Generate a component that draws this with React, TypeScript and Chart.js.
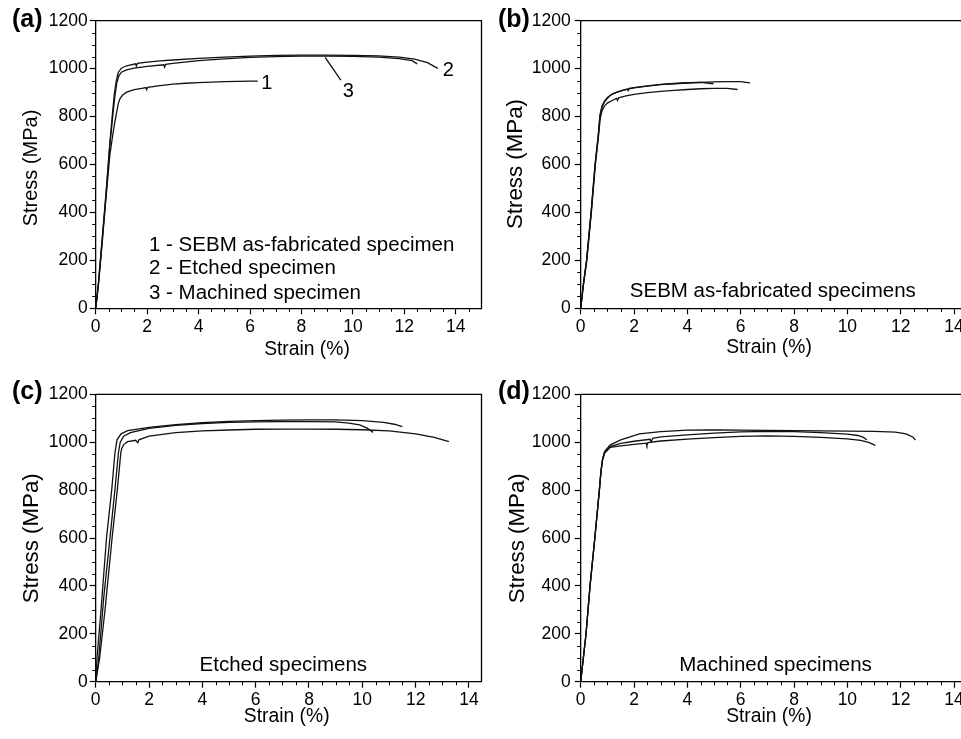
import React, { useEffect, useRef } from "react";
import { Chart, registerables } from "chart.js";

Chart.register(...registerables);

type Pt = [number, number];

const FONT = '"Liberation Sans", Arial, Helvetica, sans-serif';

// ---------- tick labels ----------
const strainTickLabels = [0, 2, 4, 6, 8, 10, 12, 14];
const stressTickLabels = [0, 200, 400, 600, 800, 1000, 1200];

// ---------- panel (a): comparison ----------
const aAsFabricated: Pt[] = [
  [0, 0], [0.1, 90], [0.25, 270], [0.4, 460], [0.55, 640], [0.7, 750], [0.8, 810], [0.88, 855],
  [0.95, 876], [1.05, 890], [1.2, 902], [1.5, 912], [1.8, 918], [1.95, 921], [1.98, 912], [2.02, 922],
  [2.5, 929], [3, 935], [3.5, 939], [4, 942], [4.5, 944], [5, 946], [5.5, 947], [6, 948], [6.3, 948],
];
const aEtched: Pt[] = [
  [0, 0], [0.1, 100], [0.25, 290], [0.4, 480], [0.55, 690], [0.65, 810], [0.72, 890], [0.8, 950],
  [0.88, 985], [1.0, 1002], [1.2, 1012], [1.55, 1020], [1.58, 1010], [1.62, 1022], [2, 1027], [2.5, 1032],
  [3, 1036], [4, 1043], [5, 1048], [6, 1052], [7, 1055], [8, 1056], [9, 1056], [10, 1055], [11, 1053],
  [11.8, 1048], [12.4, 1040], [12.9, 1025], [13.3, 1001],
];
const aMachined: Pt[] = [
  [0, 0], [0.1, 95], [0.25, 280], [0.4, 470], [0.55, 680], [0.66, 800], [0.74, 880], [0.82, 940],
  [0.9, 970], [1.0, 985], [1.2, 995], [1.5, 1002], [2, 1009], [2.65, 1016], [2.68, 1006], [2.72, 1018],
  [3, 1022], [4, 1033], [5, 1041], [6, 1047], [7, 1050], [8, 1052], [9, 1052], [10, 1051], [11, 1048],
  [11.8, 1042], [12.3, 1033], [12.5, 1020],
];
const aLeader3: Pt[] = [[8.92, 1047], [9.53, 952]];

// ---------- panel (b): SEBM as-fabricated ----------
const bSpecimen1: Pt[] = [
  [0, 0], [0.1, 100], [0.22, 200], [0.39, 400], [0.54, 600], [0.66, 720], [0.72, 800], [0.8, 840],
  [0.9, 862], [1.0, 876], [1.1, 888], [1.3, 900], [1.6, 910], [2, 920], [2.5, 927], [3, 933], [3.5, 937],
  [4, 940], [4.5, 943], [5, 945], [5.5, 946], [6, 946], [6.35, 941],
];
const bSpecimen2: Pt[] = [
  [0, 0], [0.1, 100], [0.22, 200], [0.39, 400], [0.54, 600], [0.66, 725], [0.72, 805], [0.8, 845],
  [0.9, 866], [1.0, 880], [1.2, 895], [1.5, 907], [1.75, 915], [1.78, 908], [1.82, 918], [2, 921],
  [2.5, 928], [3, 934], [3.5, 938], [4, 941], [4.5, 943], [4.98, 937],
];
const bSpecimen3: Pt[] = [
  [0, 0], [0.1, 95], [0.23, 200], [0.4, 400], [0.55, 600], [0.67, 720], [0.73, 790], [0.8, 825],
  [0.9, 845], [1.0, 856], [1.2, 868], [1.35, 876], [1.38, 868], [1.42, 878], [1.7, 886], [2, 893],
  [2.5, 900], [3, 905], [3.5, 909], [4, 913], [4.5, 916], [5, 918], [5.5, 918], [5.88, 913],
];

// ---------- panel (c): etched ----------
const cSpecimen1: Pt[] = [
  [0, 0], [0.05, 100], [0.2, 300], [0.41, 606], [0.6, 800], [0.72, 954], [0.8, 1010], [0.95, 1035],
  [1.2, 1048], [2, 1062], [3, 1073], [4, 1082], [5, 1087], [6, 1090], [7, 1092], [8, 1093], [9, 1093],
  [10, 1090], [10.8, 1083], [11.2, 1075], [11.5, 1065],
];
const cSpecimen2: Pt[] = [
  [0, 0], [0.1, 80], [0.3, 350], [0.54, 606], [0.72, 800], [0.85, 954], [0.92, 1000], [1.05, 1025],
  [1.3, 1040], [2, 1058], [3, 1070], [4, 1078], [5, 1083], [6, 1085], [7, 1086], [8, 1086], [9, 1085],
  [9.5, 1080], [9.9, 1072], [10.2, 1058], [10.4, 1041],
];
const cSpecimen3: Pt[] = [
  [0, 0], [0.15, 100], [0.35, 300], [0.62, 606], [0.81, 800], [0.94, 954], [0.98, 975], [1.05, 990],
  [1.2, 1002], [1.5, 1008], [1.58, 998], [1.62, 1010], [2, 1025], [3, 1040], [4, 1047], [5, 1051],
  [6, 1054], [7, 1055], [8, 1055], [9, 1054], [10, 1052], [11, 1047], [12, 1035], [12.7, 1020], [13.25, 1002],
];

// ---------- panel (d): machined ----------
const dSpecimen1: Pt[] = [
  [0, 0], [0.1, 100], [0.2, 200], [0.35, 400], [0.53, 600], [0.7, 800], [0.76, 880], [0.82, 930],
  [0.9, 962], [1.1, 988], [1.5, 1010], [2.2, 1035], [3, 1044], [4, 1050], [5, 1051], [6, 1050],
  [7, 1049], [8, 1048], [9, 1047], [10, 1046], [11, 1045], [11.8, 1042], [12.2, 1035], [12.45, 1022], [12.55, 1009],
];
const dSpecimen2: Pt[] = [
  [0, 0], [0.1, 100], [0.2, 200], [0.35, 400], [0.53, 600], [0.7, 800], [0.76, 878], [0.82, 928],
  [0.9, 958], [1.1, 982], [1.5, 995], [2, 1004], [2.6, 1012], [2.64, 1002], [2.7, 1016], [3, 1022],
  [4, 1031], [5, 1038], [6, 1043], [7, 1045], [8, 1044], [9, 1040], [10, 1034], [10.4, 1028], [10.6, 1020], [10.73, 1010],
];
const dSpecimen3: Pt[] = [
  [0, 0], [0.1, 100], [0.2, 200], [0.35, 400], [0.53, 600], [0.7, 800], [0.76, 876], [0.82, 925],
  [0.9, 955], [1.1, 978], [1.5, 985], [2, 991], [2.45, 996], [2.48, 986], [2.52, 998], [3, 1005],
  [4, 1013], [5, 1019], [6, 1024], [7, 1026], [8, 1024], [9, 1020], [10, 1014], [10.5, 1008], [10.8, 999], [11.05, 987],
];

// ---------- text ----------
const xTitle = "Strain (%)";
const yTitle = "Stress (MPa)";
const legendLinesA = ["1 - SEBM as-fabricated specimen", "2 - Etched specimen", "3 - Machined specimen"];
const curveNumbersA = ["1", "2", "3"];
const curveNumberPosA: Pt[] = [[6.65, 939], [13.71, 994], [9.82, 904]];

interface TextItem {
  text: string;
  x: number;
  y: number;
  size: number;
  bold?: boolean;
  align?: CanvasTextAlign;
  rotate?: boolean;
}

interface Panel {
  key: string;
  left: number;
  top: number;
  width: number;
  height: number;
  plotLeft: number;
  plotTop: number;
  plotRight: number;
  plotBottom: number;
  xMax: number;
  labelPad: number;
  series: Pt[][];
  texts: TextItem[];
  dataTexts: { text: string; at: Pt }[];
}

const panels: Panel[] = [
  {
    key: "a", left: 0, top: 0, width: 490, height: 370,
    plotLeft: 95.7, plotTop: 20.7, plotRight: 481.5, plotBottom: 308.3, xMax: 15, labelPad: 2,
    series: [aAsFabricated, aEtched, aMachined, aLeader3],
    texts: [
      { text: "(a)", x: 12, y: 20, size: 25, bold: true, align: "left" },
      { text: yTitle, x: 31.7, y: 168, size: 20, rotate: true },
      { text: xTitle, x: 307, y: 350, size: 19.3 },
      { text: legendLinesA[0], x: 149, y: 245, size: 20.5, align: "left" },
      { text: legendLinesA[1], x: 149, y: 268.5, size: 20.5, align: "left" },
      { text: legendLinesA[2], x: 149, y: 293, size: 20.5, align: "left" },
    ],
    dataTexts: curveNumbersA.map((t, i) => ({ text: t, at: curveNumberPosA[i] })),
  },
  {
    key: "b", left: 480, top: 0, width: 530, height: 370,
    plotLeft: 100.7, plotTop: 20.7, plotRight: 500.7, plotBottom: 308.3, xMax: 15, labelPad: 4,
    series: [bSpecimen1, bSpecimen2, bSpecimen3],
    texts: [
      { text: "(b)", x: 18, y: 20, size: 25, bold: true, align: "left" },
      { text: yTitle, x: 35.8, y: 164, size: 22.3, rotate: true },
      { text: xTitle, x: 289, y: 348, size: 19.3 },
      { text: "SEBM as-fabricated specimens", x: 292.8, y: 291.7, size: 20.5 },
    ],
    dataTexts: [],
  },
  {
    key: "c", left: 0, top: 370, width: 490, height: 369,
    plotLeft: 95.7, plotTop: 24.3, plotRight: 481.5, plotBottom: 311.7, xMax: 14.47, labelPad: 2,
    series: [cSpecimen1, cSpecimen2, cSpecimen3],
    texts: [
      { text: "(c)", x: 12, y: 21.7, size: 25, bold: true, align: "left" },
      { text: yTitle, x: 31.7, y: 168.3, size: 22.3, rotate: true },
      { text: xTitle, x: 286.7, y: 346.7, size: 19.3 },
      { text: "Etched specimens", x: 283.3, y: 295, size: 20.5 },
    ],
    dataTexts: [],
  },
  {
    key: "d", left: 480, top: 370, width: 530, height: 369,
    plotLeft: 100.7, plotTop: 24.3, plotRight: 500.7, plotBottom: 311.7, xMax: 15, labelPad: 4,
    series: [dSpecimen1, dSpecimen2, dSpecimen3],
    texts: [
      { text: "(d)", x: 18, y: 21.7, size: 25, bold: true, align: "left" },
      { text: yTitle, x: 37.5, y: 168.3, size: 22.3, rotate: true },
      { text: xTitle, x: 289, y: 346.7, size: 19.3 },
      { text: "Machined specimens", x: 295.5, y: 295, size: 20.5 },
    ],
    dataTexts: [],
  },
];

function decorPlugin(p: Panel) {
  return {
    id: "decor" + p.key,
    afterDraw(chart: any) {
      const ctx: CanvasRenderingContext2D = chart.ctx;
      const { left, right, top, bottom } = chart.chartArea;
      const xs = chart.scales.x;
      const ys = chart.scales.y;
      ctx.save();
      // frame (top and right)
      ctx.strokeStyle = "#000";
      ctx.lineWidth = 1.3;
      ctx.beginPath();
      ctx.moveTo(left, top);
      ctx.lineTo(right, top);
      ctx.lineTo(right, bottom);
      ctx.stroke();
      // minor ticks
      ctx.lineWidth = 1;
      ctx.beginPath();
      for (let v = 0.5; v < xs.max; v += 0.5) {
        if (Math.abs(v / 2 - Math.round(v / 2)) < 1e-6) continue;
        const px = Math.round(xs.getPixelForValue(v)) + 0.5;
        ctx.moveTo(px, bottom);
        ctx.lineTo(px, bottom + 3.5);
      }
      for (let v = 50; v < ys.max; v += 50) {
        if (v % 200 === 0) continue;
        const py = Math.round(ys.getPixelForValue(v)) + 0.5;
        ctx.moveTo(left - 3.5, py);
        ctx.lineTo(left, py);
      }
      ctx.stroke();
      // texts
      ctx.fillStyle = "#000";
      ctx.textBaseline = "middle";
      for (const t of p.texts) {
        ctx.font = `${t.bold ? "bold " : ""}${t.size}px ${FONT}`;
        ctx.textAlign = t.align || "center";
        if (t.rotate) {
          ctx.save();
          ctx.translate(t.x, t.y);
          ctx.rotate(-Math.PI / 2);
          ctx.fillText(t.text, 0, 0);
          ctx.restore();
        } else {
          ctx.fillText(t.text, t.x, t.y);
        }
      }
      ctx.font = `20px ${FONT}`;
      ctx.textAlign = "center";
      for (const d of p.dataTexts) {
        ctx.fillText(d.text, xs.getPixelForValue(d.at[0]), ys.getPixelForValue(d.at[1]));
      }
      ctx.restore();
    },
  };
}

function PanelChart({ p }: { p: Panel }) {
  const ref = useRef<HTMLCanvasElement | null>(null);
  useEffect(() => {
    if (!ref.current) return;
    const tickFont = { family: FONT, size: 17.5 };
    const chart = new Chart(ref.current, {
      type: "scatter",
      data: {
        datasets: p.series.map((s) => ({
          data: s.map(([x, y]) => ({ x, y })),
          showLine: true,
          borderColor: "#111",
          borderWidth: 1.3,
          pointRadius: 0,
          pointHoverRadius: 0,
          fill: false,
          tension: 0,
        })),
      },
      options: {
        responsive: false,
        maintainAspectRatio: false,
        animation: false,
        events: [],
        layout: { padding: { left: 0, top: p.plotTop, right: p.width - p.plotRight, bottom: 0 } },
        plugins: { legend: { display: false }, tooltip: { enabled: false }, title: { display: false } },
        scales: {
          x: {
            type: "linear",
            bounds: "data",
            min: 0,
            max: p.xMax,
            afterBuildTicks: (s: any) => {
              s.ticks = strainTickLabels.filter((v) => v <= p.xMax).map((v) => ({ value: v }));
            },
            afterFit: (s: any) => {
              s.height = p.height - p.plotBottom;
              s.paddingLeft = 0;
              s.paddingRight = 0;
            },
            ticks: {
              font: tickFont, color: "#000", padding: 2, maxRotation: 0, autoSkip: false,
              callback: (v: any) => String(v),
            },
            grid: { drawOnChartArea: false, drawTicks: true, tickLength: 6, tickColor: "#000", tickWidth: 1.2 },
            border: { display: true, color: "#000", width: 1.3 },
          },
          y: {
            type: "linear",
            bounds: "data",
            min: 0,
            max: 1200,
            afterBuildTicks: (s: any) => {
              s.ticks = stressTickLabels.map((v) => ({ value: v }));
            },
            afterFit: (s: any) => {
              s.width = p.plotLeft;
              s.paddingTop = 0;
              s.paddingBottom = 0;
            },
            ticks: {
              font: tickFont, color: "#000", padding: p.labelPad, autoSkip: false,
              callback: (v: any) => String(v),
            },
            grid: { drawOnChartArea: false, drawTicks: true, tickLength: 6, tickColor: "#000", tickWidth: 1.2 },
            border: { display: true, color: "#000", width: 1.3 },
          },
        },
      } as any,
      plugins: [decorPlugin(p)],
    });
    return () => chart.destroy();
  }, [p]);
  return (
    <canvas
      ref={ref}
      width={p.width}
      height={p.height}
      style={{ position: "absolute", left: p.left, top: p.top, width: p.width, height: p.height }}
    />
  );
}

export default function App() {
  return (
    <div
      style={{
        position: "fixed",
        left: 0,
        top: 0,
        width: 961,
        height: 739,
        overflow: "hidden",
        background: "#fff",
      }}
    >
      {panels.map((p) => (
        <PanelChart key={p.key} p={p} />
      ))}
    </div>
  );
}
